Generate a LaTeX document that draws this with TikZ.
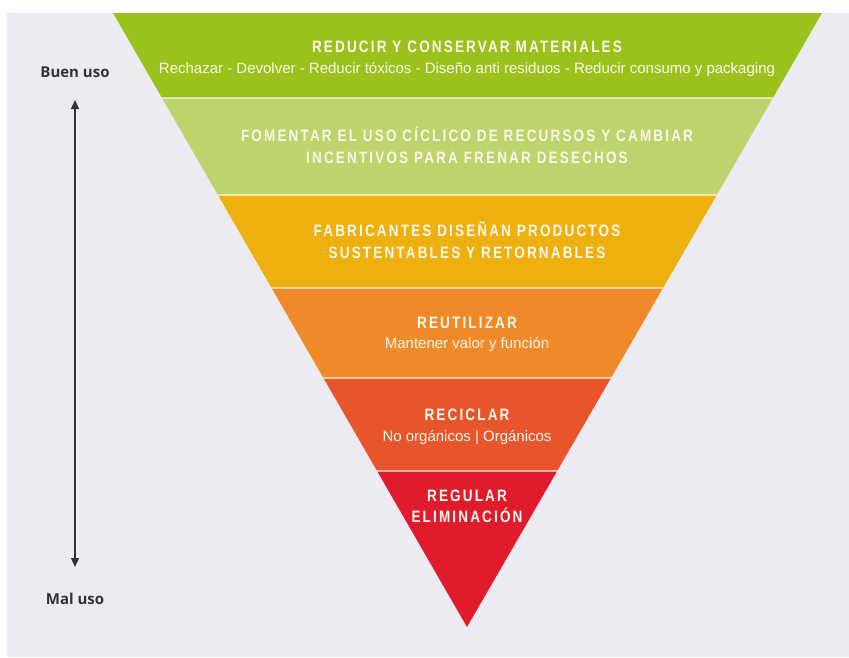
\documentclass[tikz,border=0pt]{standalone}
\usepackage{fontspec}
\usetikzlibrary{arrows.meta}
\setmainfont{Liberation Sans}
\newfontfamily\titlefont[FakeStretch=0.82,LetterSpace=13]{Liberation Sans}
\newfontfamily\subfont{Liberation Sans}
\newfontfamily\sidefont{Open Sans}
\definecolor{bgc}{HTML}{ECEBF1}
\definecolor{cA}{HTML}{9BC21C}
\definecolor{cB}{HTML}{BDD36B}
\definecolor{cC}{HTML}{EEB00F}
\definecolor{cD}{HTML}{EF8A28}
\definecolor{cE}{HTML}{E8552C}
\definecolor{cF}{HTML}{E01B2D}
\definecolor{txtc}{HTML}{FBF8EC}
\definecolor{sidec}{HTML}{333333}
\tikzset{
  ttl/.style={anchor=base, text=txtc, inner sep=0pt, font=\titlefont\bfseries\fontsize{16.5}{19}\selectfont},
  sub/.style={anchor=base, text=txtc, inner sep=0pt, font=\subfont\fontsize{15}{18}\selectfont},
  side/.style={anchor=base, text=sidec, inner sep=0pt, font=\sidefont\bfseries\fontsize{15}{18}\selectfont},
  sep/.style={draw=white, draw opacity=0.6, line width=2.5pt},
}
\begin{document}
\begin{tikzpicture}[x=1pt,y=-1pt]
\useasboundingbox (0,0) rectangle (849,657);
\fill[white] (0,0) rectangle (849,657);
\fill[bgc] (7,13) rectangle (849,657);
\begin{scope}
  \clip (113,13) -- (822,13) -- (467,627) -- cycle;
  \fill[cA] (100,0) rectangle (840,98);
  \fill[cB] (100,98) rectangle (840,195);
  \fill[cC] (100,195) rectangle (840,288);
  \fill[cD] (100,288) rectangle (840,378);
  \fill[cE] (100,378) rectangle (840,471);
  \fill[cF] (100,471) rectangle (840,640);
  \draw[sep] (100,98) -- (840,98);
  \draw[sep] (100,195) -- (840,195);
  \draw[sep] (100,288) -- (840,288);
  \draw[sep] (100,378) -- (840,378);
  \draw[sep] (100,471) -- (840,471);
\end{scope}
% texts
\node[ttl] (t1) at (467,52) {REDUCIR Y CONSERVAR MATERIALES};
\node[sub] (s1) at (467,73) {Rechazar - Devolver - Reducir tóxicos - Diseño anti residuos - Reducir consumo y packaging};
\node[ttl] (t2a) at (467,141) {FOMENTAR EL USO CÍCLICO DE RECURSOS Y CAMBIAR};
\node[ttl] (t2b) at (467,163) {INCENTIVOS PARA FRENAR DESECHOS};
\node[ttl] (t3a) at (467,236) {FABRICANTES DISEÑAN PRODUCTOS};
\node[ttl] (t3b) at (467,258) {SUSTENTABLES Y RETORNABLES};
\node[ttl] (t4) at (467,328) {REUTILIZAR};
\node[sub] (s4) at (467,348) {Mantener valor y función};
\node[ttl] (t5) at (467,420) {RECICLAR};
\node[sub] (s5) at (467,441) {No orgánicos | Orgánicos};
\node[ttl] (t6a) at (467,501) {REGULAR};
\node[ttl] (t6b) at (467,522) {ELIMINACIÓN};
% side
\node[side] (buen) at (75,77) {Buen uso};
\node[side] (mal) at (75,604) {Mal uso};
\coordinate (atop) at (75,100);
\coordinate (abot) at (75,567);
\draw[sidec, line width=1.3pt, {Triangle[width=8pt,length=9pt]}-{Triangle[width=8pt,length=9pt]}] (atop) -- (abot);
\end{tikzpicture}
\end{document}
